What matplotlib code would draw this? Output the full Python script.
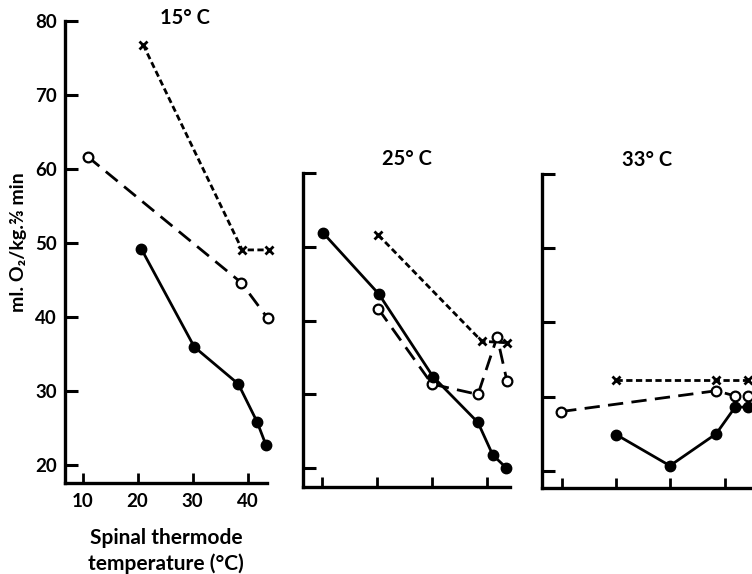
import matplotlib
matplotlib.use('Agg')
import matplotlib.pyplot as plt

plt.rcParams['font.family'] = ['Lato', 'DejaVu Sans']
plt.rcParams['font.weight'] = 'bold'
plt.rcParams['lines.scale_dashes'] = False

# 15 deg C
x15_cross = [21.0, 39.0, 43.9]
y15_cross = [76.8, 49.1, 49.1]
x15_open = [10.9, 38.8, 43.6]
y15_open = [61.7, 44.7, 39.9]
x15_fill = [20.7, 30.3, 38.3, 41.7, 43.3]
y15_fill = [49.2, 36.0, 31.0, 25.9, 22.8]

# 25 deg C
x25_cross = [20.2, 39.1, 43.7]
y25_cross = [51.6, 37.2, 37.0]
x25_open = [20.2, 30.0, 38.4, 41.9, 43.7]
y25_open = [41.6, 31.4, 30.0, 37.8, 31.8]
x25_fill = [10.1, 20.3, 30.2, 38.4, 41.1, 43.5]
y25_fill = [51.9, 43.6, 32.4, 26.2, 21.8, 20.1]

# 33 deg C
x33_cross = [20.0, 38.4, 44.3]
y33_cross = [32.2, 32.2, 32.2]
x33_open = [9.9, 38.4, 41.9, 44.3]
y33_open = [28.0, 30.8, 30.1, 30.1]
x33_fill = [20.0, 29.9, 38.4, 41.9, 44.3]
y33_fill = [24.9, 20.7, 25.0, 28.6, 28.6]

panels = [
    ('15° C', [0.0864, 0.1577, 0.2686, 0.8057], (6.8, 43.5), (17.57, 80), [20, 30, 40, 50, 60, 70, 80],
     (x15_cross, y15_cross), (x15_open, y15_open), (x15_fill, y15_fill)),
    ('25° C', [0.4033, 0.1521, 0.2749, 0.5465], (6.5, 44.25), (17.5, 60), [20, 30, 40, 50, 60],
     (x25_cross, y25_cross), (x25_open, y25_open), (x25_fill, y25_fill)),
    ('33° C', [0.7203, 0.1498, 0.2797, 0.5471], (6.3, 45.0), (17.7, 60), [20, 30, 40, 50, 60],
     (x33_cross, y33_cross), (x33_open, y33_open), (x33_fill, y33_fill)),
]

fig = plt.figure(figsize=(7.52, 5.74), dpi=100)

for i, (title, pos, xl, yl, yt, cross, opn, fill) in enumerate(panels):
    ax = fig.add_axes(pos)
    ax.plot(cross[0], cross[1], color='black', lw=2, dashes=(4.5, 2.5),
            marker='x', ms=6, mew=2, clip_on=False)
    ax.plot(opn[0], opn[1], color='black', lw=2, dashes=(11, 6),
            marker='o', ms=7, mfc='white', mec='black', mew=1.6, clip_on=False, zorder=3)
    ax.plot(fill[0], fill[1], color='black', lw=2, marker='o', ms=7.5,
            clip_on=False, zorder=4)
    ax.set_xlim(*xl)
    ax.set_ylim(*yl)
    ax.set_xticks([10, 20, 30, 40])
    ax.set_yticks(yt)
    for s in ['top', 'right']:
        ax.spines[s].set_visible(False)
    for s in ['left', 'bottom']:
        ax.spines[s].set_linewidth(2.4)
    ax.tick_params(axis='y', direction='in', length=9, width=2.2, pad=6, labelsize=13.5)
    ax.tick_params(axis='x', direction='in', length=7, width=2, pad=7, labelsize=13.5)
    if i == 0:
        ax.set_xlabel('Spinal thermode\ntemperature (°C)', fontsize=15, labelpad=13,
                      linespacing=1.3, fontweight='bold')
        ax.set_ylabel('ml. O₂/kg.⅔ min', fontsize=14, fontweight='bold')
        ax.yaxis.set_label_coords(-0.19, 0.522)
        fig.text(185 / 752, 1 - 18 / 574, title, fontsize=14.5, ha='center', va='center',
                 fontweight='bold')
    else:
        ax.set_xticklabels([])
        ax.set_yticklabels([])
        ax.set_title(title, fontsize=14.5, pad=6, x=0.5, fontweight='bold')

fig.savefig('out.png', dpi=100)
